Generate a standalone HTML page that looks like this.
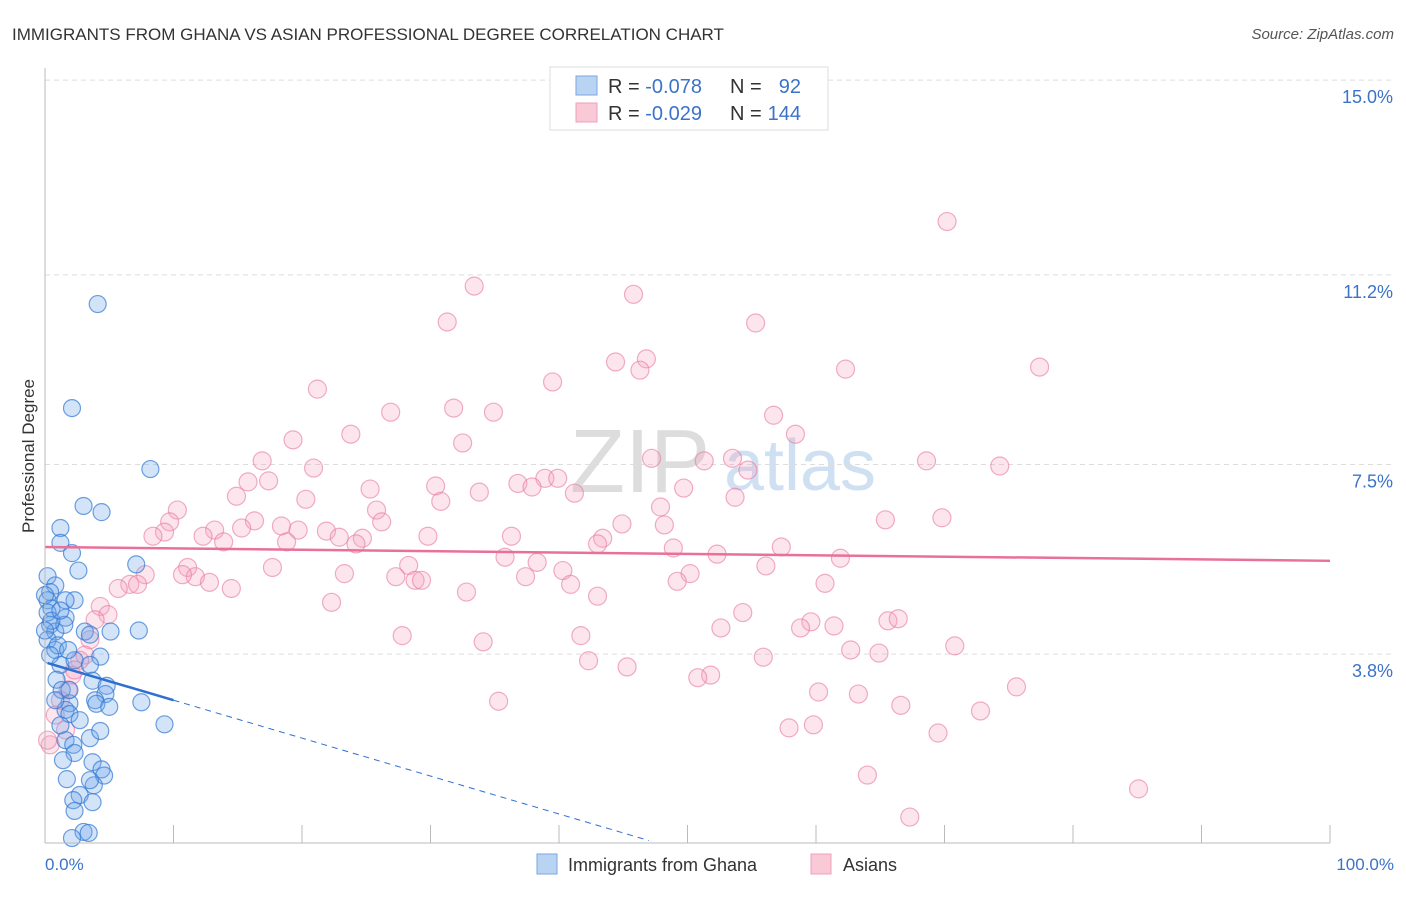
<!DOCTYPE html>
<html><head><meta charset="utf-8"><style>
body{margin:0;background:#fff;font-family:"Liberation Sans",sans-serif;}
svg text{font-family:"Liberation Sans",sans-serif;}
</style></head><body>
<svg id="c" width="1406" height="892" viewBox="0 0 1406 892">
<text x="12" y="40" font-size="17" fill="#333">IMMIGRANTS FROM GHANA VS ASIAN PROFESSIONAL DEGREE CORRELATION CHART</text>
<text x="1394" y="39" font-size="15" fill="#555" font-style="italic" text-anchor="end">Source: ZipAtlas.com</text>
<text x="34" y="456" font-size="17" fill="#333" transform="rotate(-90 34 456)" text-anchor="middle">Professional Degree</text>
<text x="640" y="492" font-size="90" fill="#ddd" font-family="Liberation Serif" text-anchor="middle">ZIP</text>
<text x="800" y="490" font-size="72" fill="#cfe0f3" text-anchor="middle">atlas</text>
<g id="grid"></g><g id="pts"></g><g id="lines"></g>
<line x1="45" y1="843" x2="1330" y2="843" stroke="#bbb"/>
<line x1="45" y1="68" x2="45" y2="843" stroke="#bbb"/>
<text x="45" y="870" font-size="17" fill="#3b73c8">0.0%</text>
<text x="1394" y="870" font-size="17" fill="#3b73c8" text-anchor="end">100.0%</text>
<g>
<rect x="550" y="67" width="278" height="63" fill="#fff" stroke="#ddd"/>
<rect x="576" y="76" width="21" height="19" fill="#b9d3f3" stroke="#7aa7e0"/>
<rect x="576" y="103" width="21" height="19" fill="#f9c9d8" stroke="#eea0b9"/>
<text x="608" y="93" font-size="20" fill="#333">R = <tspan fill="#3b73c8">-0.078</tspan></text>
<text x="730" y="93" font-size="20" fill="#333">N = </text><text x="801" y="93" font-size="20" fill="#3b73c8" text-anchor="end">92</text>
<text x="608" y="120" font-size="20" fill="#333">R = <tspan fill="#3b73c8">-0.029</tspan></text>
<text x="730" y="120" font-size="20" fill="#333">N = </text><text x="801" y="120" font-size="20" fill="#3b73c8" text-anchor="end">144</text>
</g>
<g>
<rect x="537" y="854" width="20" height="20" fill="#b9d3f3" stroke="#7aa7e0"/>
<text x="568" y="871" font-size="18" fill="#333">Immigrants from Ghana</text>
<rect x="811" y="854" width="20" height="20" fill="#f9c9d8" stroke="#eea0b9"/>
<text x="843" y="871" font-size="18" fill="#333">Asians</text>
</g>
</svg>
<script>
const yTicks=[3.8,7.5,11.2,15.0];
const yTickLabels=["3.8%","7.5%","11.2%","15.0%"];
const xTicks=[0,10,20,30,40,50,60,70,80,90,100];
const pinkX=[70.2,33.4,45.8,31.3,55.3,44.4,46.8,46.3,62.3,77.4,39.5,21.2,26.9,31.8,34.9,56.7,23.8,32.5,19.3,58.4,16.9,20.9,47.2,51.3,53.5,68.6,74.3,54.7,38.9,39.9,36.8,37.9,30.4,15.8,17.4,25.3,33.8,41.2,49.7,14.9,20.3,30.8,53.7,25.8,47.9,10.3,26.2,16.3,9.7,44.9,48.2,65.4,69.8,13.2,15.3,18.4,19.7,21.9,36.3,9.3,8.4,12.3,13.9,18.8,22.9,24.7,29.8,43.4,24.2,43.0,48.9,52.3,57.3,61.9,35.8,28.3,17.7,38.3,56.1,11.1,11.7,7.8,10.7,23.3,27.3,28.8,29.3,37.4,40.3,50.2,12.8,40.9,49.2,60.7,6.6,7.2,5.7,14.5,32.8,43.0,22.3,54.3,59.6,61.4,65.6,66.4,4.3,4.9,52.6,58.8,27.8,41.7,34.1,62.7,64.9,70.8,55.9,42.3,45.3,51.8,50.8,75.6,60.2,63.3,35.3,66.6,72.8,57.9,59.8,69.5,64.0,67.3,85.1,3.5,3.1,2.7,2.1,1.8,1.2,0.8,0.4,0.2,1.6,2.3,3.9];
const pinkY=[12.57,11.31,11.15,10.61,10.59,9.83,9.89,9.67,9.69,9.73,9.44,9.30,8.85,8.93,8.85,8.79,8.42,8.25,8.31,8.42,7.90,7.76,7.95,7.90,7.95,7.90,7.80,7.72,7.56,7.56,7.46,7.39,7.41,7.49,7.51,7.35,7.29,7.27,7.37,7.21,7.15,7.11,7.19,6.94,7.00,6.94,6.71,6.73,6.71,6.67,6.65,6.75,6.79,6.55,6.59,6.63,6.55,6.53,6.43,6.51,6.43,6.43,6.32,6.32,6.41,6.39,6.43,6.39,6.28,6.28,6.20,6.08,6.22,6.00,6.02,5.86,5.82,5.92,5.85,5.82,5.64,5.68,5.68,5.70,5.64,5.57,5.57,5.64,5.76,5.70,5.53,5.49,5.55,5.51,5.49,5.49,5.41,5.41,5.34,5.26,5.14,4.94,4.76,4.68,4.78,4.82,5.06,4.90,4.64,4.64,4.49,4.49,4.37,4.21,4.15,4.29,4.07,4.00,3.88,3.72,3.67,3.49,3.39,3.35,3.21,3.13,3.02,2.69,2.75,2.59,1.77,0.95,1.50,4.41,4.11,4.01,3.72,3.43,3.23,2.94,2.36,2.45,2.65,3.82,4.80];
const blueX=[4.1,2.1,8.2,3.0,4.4,1.2,1.2,2.1,7.1,2.6,0.2,0.8,0.4,0.2,0.5,2.3,1.6,0.4,0.8,0.2,1.5,3.1,5.1,7.3,3.5,4.3,0.8,1.2,2.3,3.5,0.9,1.3,3.7,4.8,4.7,3.9,4.0,5.0,7.5,1.9,1.6,1.9,1.2,1.6,2.2,3.5,4.3,9.3,2.3,1.4,3.7,4.4,4.6,3.8,1.7,3.5,2.7,2.2,3.7,2.3,3.0,3.4,2.1,0.0,0.2,0.5,0.0,1.0,0.4,1.6,1.9,2.7,0.8,1.8,1.2];
const blueY=[10.96,8.93,7.74,7.02,6.90,6.59,6.30,6.10,5.88,5.76,5.65,5.47,5.34,5.18,5.02,5.18,4.84,4.70,4.57,4.41,4.70,4.57,4.57,4.59,4.51,4.08,4.21,3.92,4.01,3.92,3.63,3.43,3.61,3.51,3.35,3.23,3.16,3.10,3.19,3.17,3.04,2.96,2.74,2.45,2.36,2.49,2.63,2.76,2.20,2.06,2.02,1.88,1.76,1.57,1.69,1.67,1.38,1.28,1.24,1.07,0.66,0.64,0.54,5.28,4.94,4.78,4.59,4.30,4.11,5.18,3.43,2.84,3.23,4.21,4.98];
const pinkTrend=[6.22,5.95];
const blueTrend=[3.97,-0.074];
const NS="http://www.w3.org/2000/svg";
const xs=v=>45+v*12.85;
const ys=v=>865.75-v*51.25;
function mk(t,a,p){const e=document.createElementNS(NS,t);for(const k in a)e.setAttribute(k,a[k]);p.appendChild(e);return e;}
const grid=document.getElementById('grid'),pts=document.getElementById('pts'),lines=document.getElementById('lines');
yTicks.forEach((v,i)=>{const y=ys(v+0.33);
const l=mk('line',{x1:45,x2:1394,y1:y,y2:y,stroke:'#ddd','stroke-dasharray':'5,4'},grid);


const t=mk('text',{x:1393,y:y+23,'font-size':18,fill:'#3b73c8','text-anchor':'end'},grid);t.textContent=yTickLabels[i];

});
xTicks.forEach(v=>{const x=xs(v);const l=mk('line',{x1:x,x2:x,y1:825,y2:843,stroke:'#bbb'},grid);

});
pinkX.forEach((x,i)=>{const c=mk('circle',{cx:xs(x),cy:ys(pinkY[i]),r:9,fill:'rgba(244,160,190,0.28)',stroke:'rgba(232,120,160,0.6)','stroke-width':1.2},pts);

});
blueX.forEach((x,i)=>{const c=mk('circle',{cx:xs(x),cy:ys(blueY[i]),r:8.5,fill:'rgba(110,165,235,0.3)',stroke:'rgba(50,120,210,0.7)','stroke-width':1.2},pts);

});
let l=mk('line',{x1:xs(0),y1:ys(pinkTrend[0]),x2:xs(100),y2:ys(pinkTrend[1]),stroke:'#e8709a','stroke-width':2.5},lines);


l=mk('line',{x1:xs(0.2),y1:ys(blueTrend[0]+blueTrend[1]*0.2),x2:xs(10),y2:ys(blueTrend[0]+blueTrend[1]*10),stroke:'#2f6fd0','stroke-width':2.5},lines);


l=mk('line',{x1:xs(10),y1:ys(blueTrend[0]+blueTrend[1]*10),x2:xs(47),y2:ys(blueTrend[0]+blueTrend[1]*47),stroke:'#2f6fd0','stroke-width':1,'stroke-dasharray':'6,5'},lines);


</script>
</body></html>
